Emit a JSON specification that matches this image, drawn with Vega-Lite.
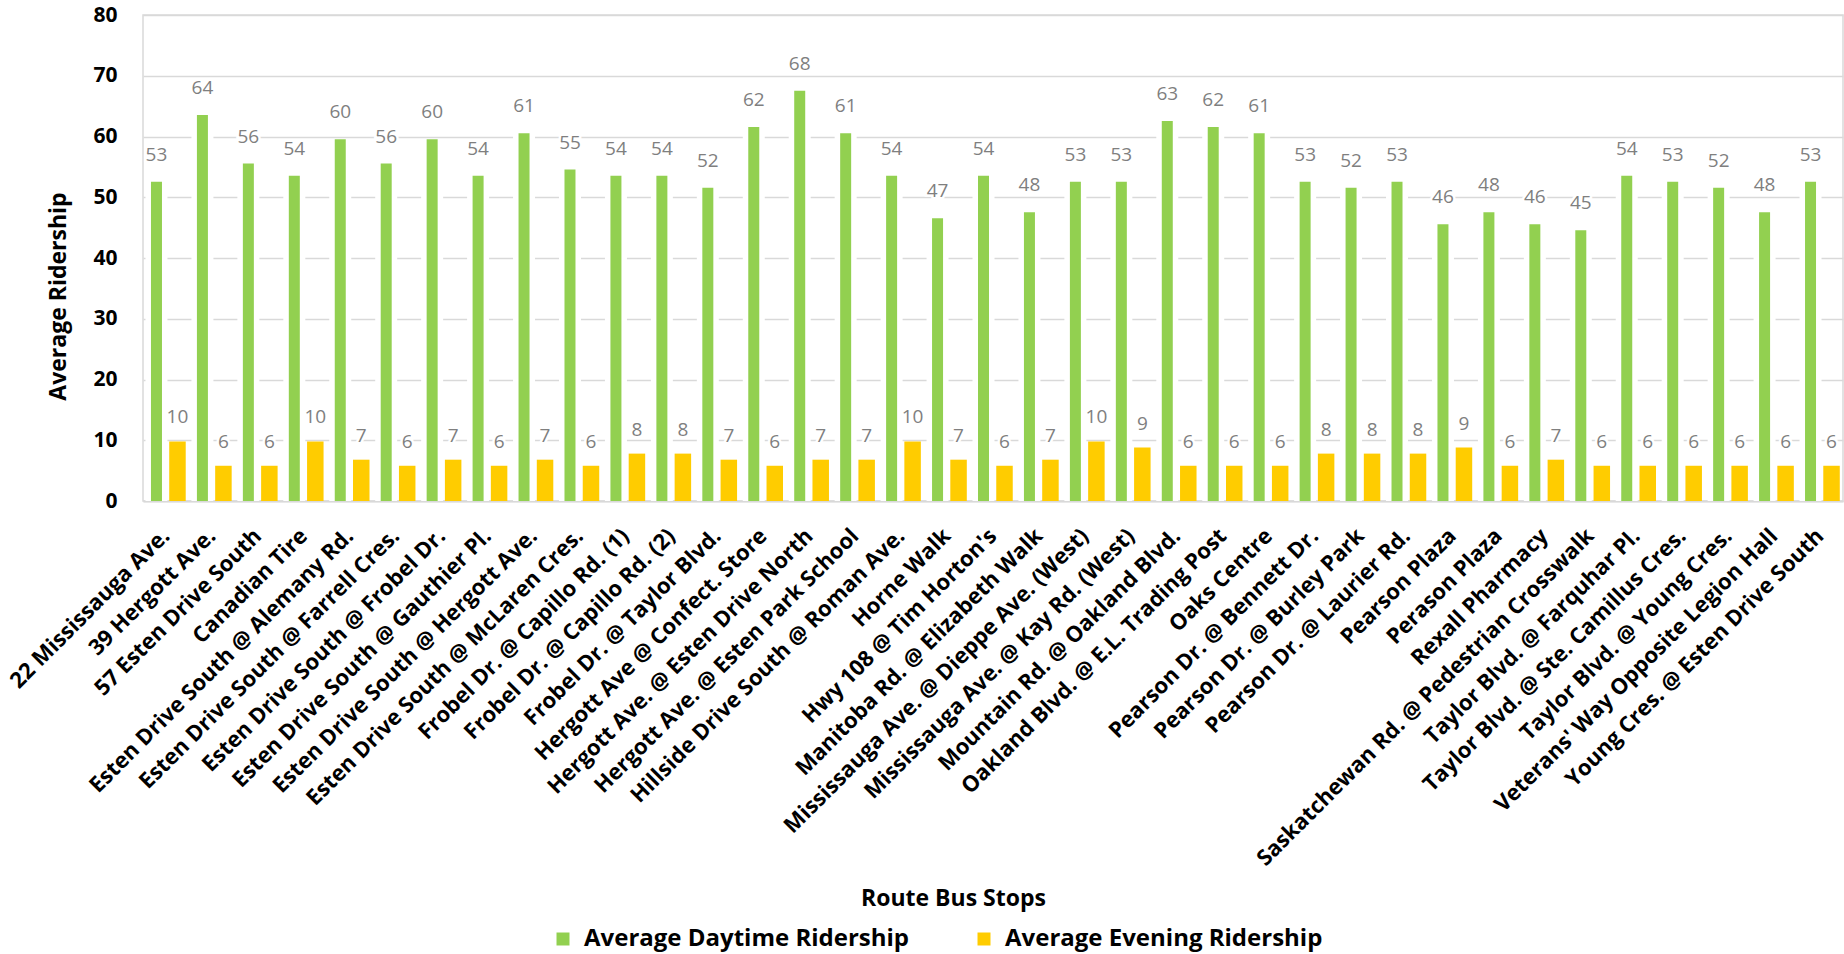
{
  "$schema": "https://vega.github.io/schema/vega-lite/v6.json",
  "width": 1700,
  "height": 486,
  "autosize": {"type": "none"},
  "padding": {"left": 143, "top": 15, "right": 1, "bottom": 453},
  "background": "white",
  "config": {
    "font": "Open Sans",
    "view": {"stroke": "#d9d9d9", "strokeWidth": 1.5},
    "axis": {"gridColor": "#d9d9d9", "gridWidth": 1.5}
  },
  "data": {
    "values": [
      {"stop": "22 Mississauga Ave.", "day": 52.55, "evening": 9.8},
      {"stop": "39 Hergott Ave.", "day": 63.55, "evening": 5.8},
      {"stop": "57 Esten Drive South", "day": 55.55, "evening": 5.8},
      {"stop": "Canadian Tire", "day": 53.55, "evening": 9.8},
      {"stop": "Esten Drive South @ Alemany Rd.", "day": 59.55, "evening": 6.8},
      {"stop": "Esten Drive South @ Farrell Cres.", "day": 55.55, "evening": 5.8},
      {"stop": "Esten Drive South @ Frobel Dr.", "day": 59.55, "evening": 6.8},
      {"stop": "Esten Drive South @ Gauthier Pl.", "day": 53.55, "evening": 5.8},
      {"stop": "Esten Drive South @ Hergott Ave.", "day": 60.55, "evening": 6.8},
      {"stop": "Esten Drive South @ McLaren Cres.", "day": 54.55, "evening": 5.8},
      {"stop": "Frobel Dr. @ Capillo Rd. (1)", "day": 53.55, "evening": 7.8},
      {"stop": "Frobel Dr. @ Capillo Rd. (2)", "day": 53.55, "evening": 7.8},
      {"stop": "Frobel Dr. @ Taylor Blvd.", "day": 51.55, "evening": 6.8},
      {"stop": "Hergott Ave @ Confect. Store", "day": 61.55, "evening": 5.8},
      {"stop": "Hergott Ave. @ Esten Drive North", "day": 67.55, "evening": 6.8},
      {"stop": "Hergott Ave. @ Esten Park School", "day": 60.55, "evening": 6.8},
      {"stop": "Hillside Drive South @ Roman Ave.", "day": 53.55, "evening": 9.8},
      {"stop": "Horne Walk", "day": 46.55, "evening": 6.8},
      {"stop": "Hwy 108 @ Tim Horton's", "day": 53.55, "evening": 5.8},
      {"stop": "Manitoba Rd. @ Elizabeth Walk", "day": 47.55, "evening": 6.8},
      {"stop": "Mississauga Ave. @ Dieppe Ave. (West)", "day": 52.55, "evening": 9.8},
      {"stop": "Mississauga Ave. @ Kay Rd. (West)", "day": 52.55, "evening": 8.8},
      {"stop": "Mountain Rd. @ Oakland Blvd.", "day": 62.55, "evening": 5.8},
      {"stop": "Oakland Blvd. @ E.L. Trading Post", "day": 61.55, "evening": 5.8},
      {"stop": "Oaks Centre", "day": 60.55, "evening": 5.8},
      {"stop": "Pearson Dr. @ Bennett Dr.", "day": 52.55, "evening": 7.8},
      {"stop": "Pearson Dr. @ Burley Park", "day": 51.55, "evening": 7.8},
      {"stop": "Pearson Dr. @ Laurier Rd.", "day": 52.55, "evening": 7.8},
      {"stop": "Pearson Plaza", "day": 45.55, "evening": 8.8},
      {"stop": "Perason Plaza", "day": 47.55, "evening": 5.8},
      {"stop": "Rexall Pharmacy", "day": 45.55, "evening": 6.8},
      {"stop": "Saskatchewan Rd. @ Pedestrian Crosswalk", "day": 44.55, "evening": 5.8},
      {"stop": "Taylor Blvd. @ Farquhar Pl.", "day": 53.55, "evening": 5.8},
      {"stop": "Taylor Blvd. @ Ste. Camillus Cres.", "day": 52.55, "evening": 5.8},
      {"stop": "Taylor Blvd. @ Young Cres.", "day": 51.55, "evening": 5.8},
      {"stop": "Veterans' Way Opposite Legion Hall", "day": 47.55, "evening": 5.8},
      {"stop": "Young Cres. @ Esten Drive South", "day": 52.55, "evening": 5.8}
    ]
  },
  "encoding": {
    "x": {
      "field": "stop",
      "type": "nominal",
      "sort": null,
      "scale": {"paddingInner": 0, "paddingOuter": 0},
      "axis": {
        "title": "Route Bus Stops",
        "titleFont": "Open Sans",
        "titleFontSize": 23,
        "titleFontWeight": "bold",
        "titleColor": "black",
        "titleX": 810,
        "titleY": 404,
        "titleAlign": "center",
        "titleBaseline": "alphabetic",
        "labelAngle": -45,
        "labelAlign": "right",
        "labelBaseline": "middle",
        "labelPadding": 31,
        "labelFont": "Open Sans",
        "labelFontSize": 22,
        "labelFontWeight": "bold",
        "labelColor": "black",
        "labelOverlap": false,
        "labelLimit": 0,
        "ticks": false,
        "grid": false,
        "domainColor": "#d9d9d9",
        "domainWidth": 2
      }
    }
  },
  "layer": [
    {
      "mark": {"type": "bar", "width": 22, "xOffset": -9.5, "color": "white"},
      "encoding": {
        "y": {
          "field": "day",
          "type": "quantitative",
          "scale": {"domain": [0, 80], "nice": false},
          "axis": {
            "title": "Average Ridership",
            "titleFont": "Open Sans",
            "titleFontSize": 23,
            "titleFontWeight": "bold",
            "titleColor": "black",
            "titleAngle": -90,
            "titleX": -78,
            "titleY": 281,
            "titleAlign": "center",
            "titleBaseline": "alphabetic",
            "values": [0, 10, 20, 30, 40, 50, 60, 70, 80],
            "labelFont": "Open Sans",
            "labelFontSize": 21,
            "labelFontWeight": "bold",
            "labelColor": "black",
            "labelPadding": 26,
            "tickSize": 0,
            "ticks": false,
            "domain": false,
            "grid": true
          }
        }
      }
    },
    {
      "mark": {"type": "bar", "width": 11, "xOffset": -9.5},
      "encoding": {
        "y": {"field": "day", "type": "quantitative"},
        "color": {
          "datum": "Average Daytime Ridership",
          "type": "nominal",
          "scale": {
            "domain": ["Average Daytime Ridership", "Average Evening Ridership"],
            "range": ["#92d050", "#ffcc00"]
          },
          "legend": {
            "title": null,
            "orient": "none",
            "direction": "horizontal",
            "legendX": 408,
            "legendY": 912,
            "symbolType": "square",
            "symbolSize": 169,
            "symbolStrokeWidth": 0,
            "labelFont": "Open Sans",
            "labelFontSize": 24,
            "labelFontWeight": "bold",
            "labelColor": "black",
            "labelOffset": 9,
            "columnPadding": 62,
            "labelLimit": 0
          }
        }
      }
    },
    {
      "mark": {"type": "bar", "width": 16.5, "xOffset": 11.5},
      "encoding": {
        "y": {"field": "evening", "type": "quantitative"},
        "color": {"datum": "Average Evening Ridership", "type": "nominal"}
      }
    },
    {
      "mark": {"type": "text", "xOffset": -9.5, "dy": -21, "baseline": "alphabetic", "font": "Open Sans", "fontSize": 19, "color": "white", "stroke": "white", "strokeWidth": 5},
      "encoding": {
        "y": {"field": "day", "type": "quantitative"},
        "text": {"field": "day", "type": "quantitative", "format": ".0f"}
      }
    },
    {
      "mark": {"type": "text", "xOffset": 11.5, "dy": -18, "baseline": "alphabetic", "font": "Open Sans", "fontSize": 19, "color": "white", "stroke": "white", "strokeWidth": 5},
      "encoding": {
        "y": {"field": "evening", "type": "quantitative"},
        "text": {"field": "evening", "type": "quantitative", "format": ".0f"}
      }
    },
    {
      "mark": {"type": "text", "xOffset": -9.5, "dy": -21, "baseline": "alphabetic", "font": "Open Sans", "fontSize": 19, "color": "#7f7f7f"},
      "encoding": {
        "y": {"field": "day", "type": "quantitative"},
        "text": {"field": "day", "type": "quantitative", "format": ".0f"}
      }
    },
    {
      "mark": {"type": "text", "xOffset": 11.5, "dy": -18, "baseline": "alphabetic", "font": "Open Sans", "fontSize": 19, "color": "#7f7f7f"},
      "encoding": {
        "y": {"field": "evening", "type": "quantitative"},
        "text": {"field": "evening", "type": "quantitative", "format": ".0f"}
      }
    }
  ]
}
